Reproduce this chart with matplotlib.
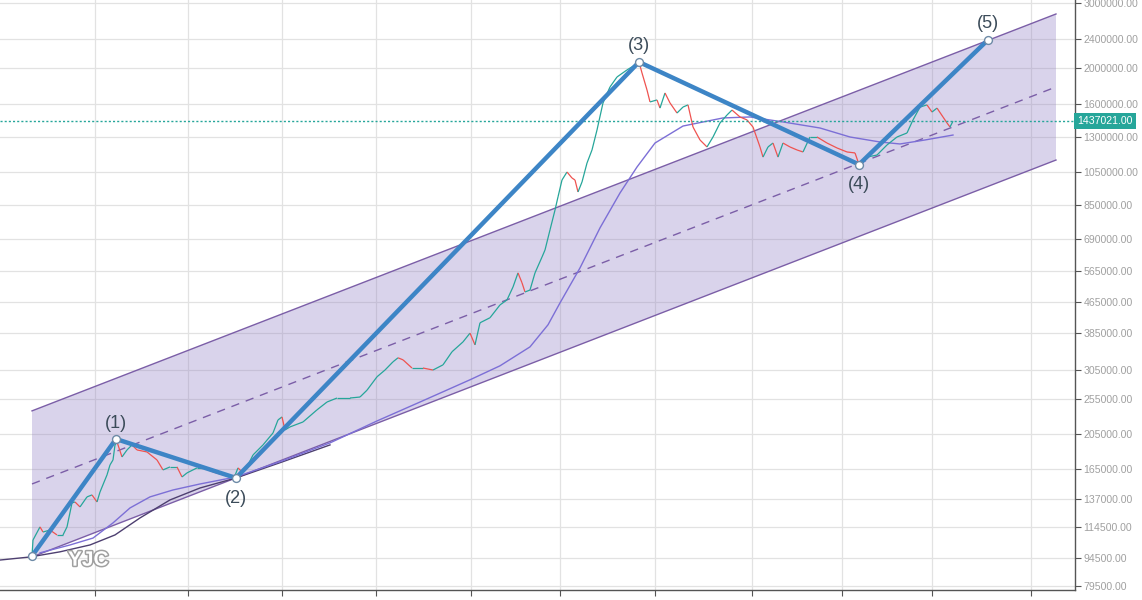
import numpy as np
import matplotlib
matplotlib.use("Agg")
import matplotlib.pyplot as plt
from matplotlib.collections import LineCollection
import matplotlib.patheffects as pe

# price path (x = bar index, price in thousands)
price_x = [32, 33, 40, 43, 50, 57, 63, 67, 72, 75, 80, 87, 92, 97, 100, 107, 110, 113,
           115, 117, 122, 127, 132, 137, 147, 157, 163, 170, 177, 182, 187, 197, 203,
           213, 223, 228, 234, 238, 242, 247, 253, 263, 273, 278, 282, 285, 290, 303,
           317, 327, 337, 350, 360, 367, 377, 385, 393, 398, 403, 412, 423, 433, 443,
           452, 463, 470, 475, 480, 490, 500, 507, 513, 518, 522, 525, 530, 535, 542,
           545, 550, 555, 558, 562, 567, 572, 575, 578, 582, 587, 592, 597, 603, 610,
           617, 627, 635, 639, 642, 647, 650, 657, 660, 665, 670, 677, 683, 688, 693,
           700, 707, 713, 720, 727, 732, 740, 747, 753, 760, 763, 768, 773, 778, 783,
           790, 797, 803, 810, 817, 827, 837, 847, 855, 859, 867, 877, 887, 897, 907,
           913, 920, 927, 932, 937, 943, 947, 950, 953]
price_k = [95.8, 105.8, 114.8, 111.2, 112.6, 109.2, 109.2, 114.8, 133.3, 134.1, 130.0,
           138.4, 140.1, 134.1, 142.7, 158.7, 168.9, 174.2, 191.3, 194.9, 177.5, 185.4,
           191.3, 185.4, 183.1, 174.2, 163.7, 166.8, 166.8, 156.7, 160.7, 165.8, 165.8,
           161.7, 158.7, 157.5, 155.7, 165.8, 161.7, 166.8, 179.7, 191.3, 206.1, 223.5,
           227.7, 210.0, 214.0, 220.7, 238.0, 249.9, 256.2, 256.2, 257.8, 269.0, 292.4,
           305.0, 321.0, 329.1, 325.0, 308.8, 308.8, 305.0, 315.0, 341.7, 363.4, 383.8,
           356.7, 409.3, 422.4, 457.5, 472.0, 511.5, 558.5, 525.1, 495.8, 502.0, 558.5,
           616.4, 644.0, 730.0, 826.0, 896.6, 996.0, 1046.9, 1008.5, 996.0, 924.4, 983.7,
           1107.0, 1201.0, 1360.0, 1609.7, 1778.0, 1892.0, 1977.0, 2038.6, 2077.0, 1940.0,
           1745.0, 1619.7, 1640.0, 1559.0, 1712.7, 1609.7, 1511.5, 1569.0, 1590.0, 1385.6,
           1278.0, 1223.6, 1302.0, 1421.0, 1493.0, 1540.0, 1475.0, 1448.0, 1385.6, 1223.6,
           1149.0, 1223.6, 1254.0, 1149.0, 1254.0, 1223.6, 1201.0, 1186.0, 1302.0, 1302.0,
           1254.0, 1216.0, 1186.0, 1179.0, 1097.0, 1149.0, 1163.6, 1239.0, 1302.0, 1335.0,
           1448.0, 1569.0, 1590.0, 1521.0, 1559.0, 1475.0, 1421.0, 1385.6, 1437.0]

# moving averages
ma_slow_x = [40, 70, 93, 113, 130, 150, 173, 200, 236, 282, 330, 377, 420, 470, 500,
             530, 548, 560, 580, 600, 620, 637, 655, 683, 723, 750, 783, 820, 850, 880,
             900, 925, 953]
ma_slow_k = [97.7, 102.6, 107.1, 117.7, 129.2, 138.4, 144.5, 150.0, 156.7, 173.1, 193.7,
             222.1, 249.9, 287.0, 313.1, 352.3, 404.2, 463.3, 576.1, 739.2, 918.7, 1080.0,
             1254.0, 1394.0, 1466.0, 1475.0, 1430.0, 1377.0, 1302.0, 1262.0, 1246.6,
             1278.0, 1318.0]
ma_dark_x = [0, 30, 60, 90, 115, 140, 170, 200, 236, 282, 330]
ma_dark_k = [93.4, 95.2, 98.3, 102.6, 109.2, 121.4, 135.8, 146.3, 155.7, 172.0, 191.3]

# elliott waves
wave_x = [32, 116, 236, 639, 859, 988]
wave_k = [95.8, 198.5, 155.7, 2077.0, 1097.0, 2385.0]
wave_labels = ["", "(1)", "(2)", "(3)", "(4)", "(5)"]
wave_offsets = [0, 11, -14.5, 12, -14.5, 11.5]

# parallel channel
chan_x = [32, 1056]
chan_upper_k = [236.5, 2801.0]
chan_mid_k = [150.0, 1778.0]
chan_lower_k = [95.2, 1128.0]

last_price = 1437021
yticks = [79500, 94500, 114500, 137000, 165000, 205000, 255000, 305000, 385000, 465000,
          565000, 690000, 850000, 1050000, 1300000, 1600000, 2000000, 2400000, 3000000]
xgrid = [95, 188, 282, 376, 471, 560, 655, 752, 842, 932, 1031]

price = np.array(price_k) * 1000
ma_slow = np.array(ma_slow_k) * 1000
ma_dark = np.array(ma_dark_k) * 1000
wave = np.array(wave_k) * 1000

fig = plt.figure(figsize=(11.42, 6), dpi=100)
ax = fig.add_axes([0, 10 / 600, 1075 / 1142, 590 / 600])
ax.set_yscale("log")
ax.set_xlim(0, 1075)
ax.set_ylim(77500, 3056000)

# grid
for v in yticks:
    ax.axhline(v, color="#e2e2e2", lw=0.9, zorder=0)
for g in xgrid:
    ax.axvline(g, color="#e2e2e2", lw=0.9, zorder=0)

# channel
ux = [chan_x[0], chan_x[1], chan_x[1], chan_x[0]]
uy = [chan_upper_k[0] * 1000, chan_upper_k[1] * 1000, chan_lower_k[1] * 1000, chan_lower_k[0] * 1000]
ax.fill(ux, uy, color="#8e7cc3", alpha=0.33, lw=0, zorder=1)
ax.plot(chan_x, np.array(chan_upper_k) * 1000, color="#7b5ea7", lw=1, zorder=2)
ax.plot(chan_x, np.array(chan_lower_k) * 1000, color="#7b5ea7", lw=1, zorder=2)
ax.plot(chan_x, np.array(chan_mid_k) * 1000, color="#7b5ea7", lw=1, ls=(0, (6, 5)), zorder=2)

# moving averages
ax.plot(ma_dark_x, ma_dark, color="#4d3f70", lw=1, zorder=3)
ax.plot(ma_slow_x, ma_slow, color="#7c6fd6", lw=1, zorder=3)

# price
pts = np.column_stack([price_x, price])
segs = [pts[i:i + 2] for i in range(len(pts) - 1)]
cols = ["#26a69a" if price[i + 1] >= price[i] else "#ef5350" for i in range(len(pts) - 1)]
ax.add_collection(LineCollection(segs, colors=cols, linewidths=0.9, zorder=4))

# last price line
ax.axhline(last_price, color="#26a69a", lw=1, ls=(0, (1.5, 1.5)), zorder=4)

# waves
ax.plot(wave_x, wave, color="#3d85c6", lw=3.2, zorder=5, solid_capstyle="round")
ax.scatter(wave_x, wave, s=32, facecolor="white", edgecolor="#6d8aa6", lw=1, zorder=6)
for x, y, lab, off in zip(wave_x, wave, wave_labels, wave_offsets):
    if lab:
        ax.annotate(lab, (x, y), xytext=(0, off), textcoords="offset points",
                    ha="center", va="center", fontsize=13, color="#3b4b59",
                    family="Liberation Sans", zorder=7)

# watermark
ax.text(68, 99000, "YJC", fontsize=15, fontweight="bold", color="white",
        family="Liberation Sans", va="top", ha="left", zorder=8,
        path_effects=[pe.withStroke(linewidth=2.2, foreground="#a0a0a0")])

# axes styling
for s in ["left", "top"]:
    ax.spines[s].set_visible(False)
for s in ["right", "bottom"]:
    ax.spines[s].set_color("#555555")
    ax.spines[s].set_linewidth(1)
ax.yaxis.tick_right()
ax.yaxis.set_minor_locator(matplotlib.ticker.NullLocator())
ax.set_yticks(yticks)
ax.set_yticklabels(["%.2f" % v for v in yticks])
ax.tick_params(axis="y", colors="#555555", labelcolor="#a0a0a0", labelsize=7.6,
               length=4, width=0.8, pad=2)
for t in ax.get_yticklabels():
    t.set_family("Liberation Sans")
ax.set_xticks(xgrid)
ax.set_xticklabels([])
ax.tick_params(axis="x", colors="#555555", length=4, width=0.8)

ax.text(1.002, last_price, "%.2f" % last_price, transform=ax.get_yaxis_transform(),
        ha="left", va="center", fontsize=7.6, color="white", family="Liberation Sans",
        bbox=dict(boxstyle="square,pad=0.3", fc="#26a69a", ec="none"), zorder=9,
        clip_on=False)

fig.savefig("out.png", dpi=100)
